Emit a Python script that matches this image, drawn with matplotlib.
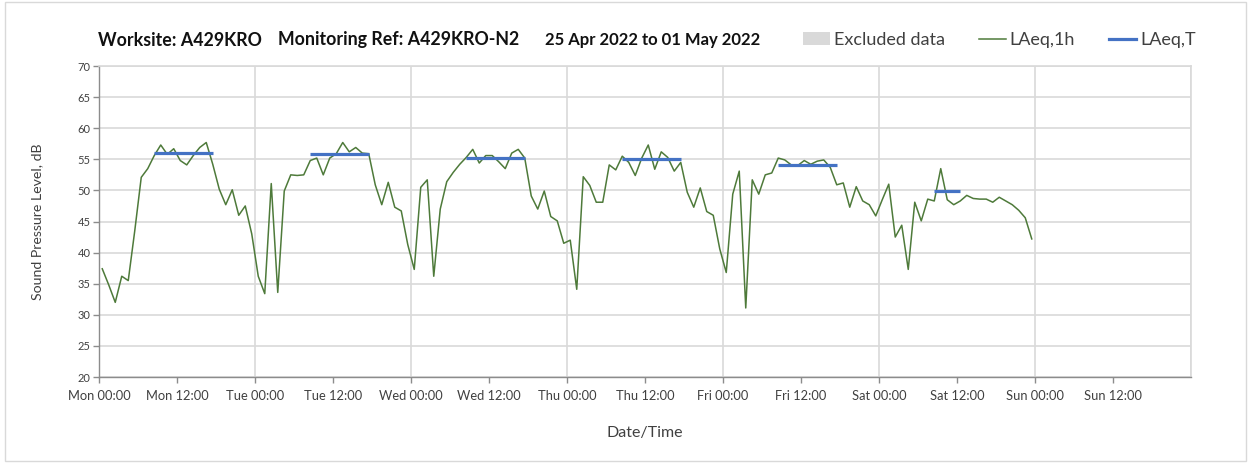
import matplotlib
matplotlib.use("Agg")
import matplotlib.pyplot as plt
from matplotlib.lines import Line2D
from matplotlib.patches import Patch, Rectangle
import numpy as np

plt.rcParams['font.family'] = ['Lato', 'DejaVu Sans']

# ---- data: hourly LAeq,1h values (dB), one list per day, hours 00-23 ----
mon = [37.4, 34.8, 32.0, 36.2, 35.5, 43.5, 52.1, 53.5, 55.6, 57.3, 55.8, 56.7,
       54.8, 54.1, 55.6, 56.9, 57.7, 54.2, 50.2, 47.7, 50.1, 46.0, 47.5, 43.0]
tue = [36.2, 33.4, 51.1, 33.6, 49.9, 52.5, 52.4, 52.5, 54.8, 55.2, 52.5, 55.2,
       55.9, 57.7, 56.2, 56.9, 56.0, 55.9, 50.9, 47.7, 51.3, 47.3, 46.7, 41.3]
wed = [37.3, 50.5, 51.7, 36.2, 47.0, 51.4, 52.9, 54.2, 55.3, 56.6, 54.4, 55.6,
       55.6, 54.6, 53.5, 56.0, 56.6, 55.2, 49.1, 47.0, 49.9, 45.8, 45.1, 41.5]
thu = [42.0, 34.1, 52.2, 50.8, 48.1, 48.1, 54.1, 53.3, 55.5, 54.5, 52.4, 55.2,
       57.3, 53.4, 56.2, 55.3, 53.1, 54.5, 49.7, 47.3, 50.4, 46.6, 46.0, 40.6]
fri = [36.8, 49.4, 53.1, 31.1, 51.7, 49.4, 52.5, 52.8, 55.2, 54.9, 54.1, 54.0,
       54.8, 54.2, 54.7, 54.9, 53.7, 50.9, 51.2, 47.3, 50.6, 48.3, 47.7, 45.9]
sat = [48.5, 51.0, 42.5, 44.4, 37.3, 48.1, 45.1, 48.6, 48.3, 53.5, 48.5, 47.7,
       48.3, 49.2, 48.7, 48.6, 48.6, 48.1, 48.9, 48.3, 47.7, 46.8, 45.6, 42.2]

# ---- LAeq,T periods: day index, start hour, end hour, level ----
lt_day = [0, 1, 2, 3, 4, 5]
lt_start = [8, 8, 8, 8, 8, 8]
lt_end = [18, 18, 18, 18, 18, 13]
lt_value = [56.0, 55.9, 55.25, 55.1, 54.1, 49.9]

tick_labels = ["Mon 00:00", "Mon 12:00", "Tue 00:00", "Tue 12:00", "Wed 00:00",
               "Wed 12:00", "Thu 00:00", "Thu 12:00", "Fri 00:00", "Fri 12:00",
               "Sat 00:00", "Sat 12:00", "Sun 00:00", "Sun 12:00"]

laeq_1h = mon + tue + wed + thu + fri + sat
hours = np.arange(len(laeq_1h)) + 0.5   # hourly values plotted at mid-hour

W, H = 1251, 463
fig = plt.figure(figsize=(W / 100, H / 100), dpi=100)
ax = fig.add_axes([99 / W, 1 - 377 / H, (1191 - 99) / W, (377 - 66) / H])

grid_c = '#d9d9d9'
axis_c = '#8c8c8c'
text_c = '#404040'
green = '#4E7A3A'
blue = '#4472C4'

ax.set_xlim(0, 168)
ax.set_ylim(20, 70)
ax.set_yticks(np.arange(20, 71, 5))
ax.set_xticks(np.arange(0, 157, 12))
ax.set_xticklabels(tick_labels)

ax.grid(axis='y', color=grid_c, lw=1.2, zorder=0)
for d in range(1, 8):
    ax.axvline(d * 24, color=grid_c, lw=1.2, zorder=0)

for s in ['top', 'right']:
    ax.spines[s].set_color(grid_c)
    ax.spines[s].set_linewidth(1.2)
for s in ['left', 'bottom']:
    ax.spines[s].set_color(axis_c)
    ax.spines[s].set_linewidth(1.0)

ax.tick_params(axis='x', colors=axis_c, labelcolor=text_c, labelsize=9.3,
               length=4, width=1, pad=5)
ax.tick_params(axis='y', colors=axis_c, labelcolor=text_c, labelsize=8,
               length=4, width=1, pad=2)

ax.plot(hours, laeq_1h, color=green, lw=1.1, zorder=3)
for d, s, e, v in zip(lt_day, lt_start, lt_end, lt_value):
    ax.plot([d * 24 + s + 0.5, d * 24 + e - 0.5], [v, v], color=blue, lw=2.3,
            zorder=4, solid_capstyle='butt')

ax.set_ylabel("Sound Pressure Level, dB", fontsize=10.2, color=text_c, labelpad=25)
ax.set_xlabel("Date/Time", fontsize=11.5, color=text_c, labelpad=18)

ty = 1 - 40 / H
title_kw = dict(fontweight='bold', va='center', ha='left', color='#111111')
fig.text(98 / W, ty, "Worksite: A429KRO", fontsize=12.8, **title_kw)
fig.text(278 / W, ty, "Monitoring Ref: A429KRO-N2", fontsize=12.8, **title_kw)
fig.text(545 / W, ty, "25 Apr 2022 to 01 May 2022", fontsize=12.0, **title_kw)

handles = [Patch(facecolor='#d9d9d9', edgecolor='none', label='Excluded data'),
           Line2D([], [], color=green, lw=1.1, label='LAeq,1h'),
           Line2D([], [], color=blue, lw=2.3, label='LAeq,T')]
leg = ax.legend(handles=handles, loc='center left', ncol=3, frameon=False,
                bbox_to_anchor=(803 / W, ty), bbox_transform=fig.transFigure,
                fontsize=13, handlelength=1.5, handleheight=0.75,
                handletextpad=0.2, columnspacing=1.9, borderpad=0,
                borderaxespad=0)
for t in leg.get_texts():
    t.set_color(text_c)

fig.add_artist(Rectangle((5 / W, 2 / H), 1 - 10 / W, 1 - 4 / H,
                         transform=fig.transFigure, fill=False,
                         edgecolor=grid_c, lw=1))

fig.savefig("out.png", dpi=100, facecolor='white')
